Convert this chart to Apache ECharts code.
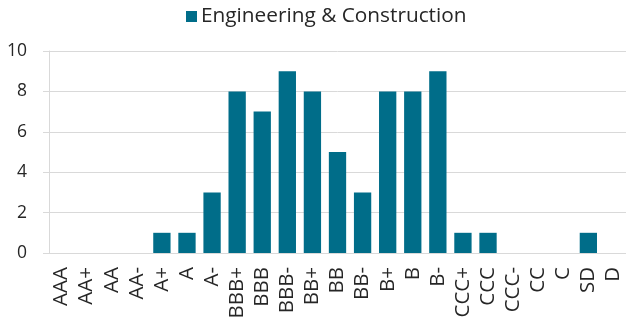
<!DOCTYPE html>
<html>
<head>
<meta charset="utf-8">
<script src="https://cdn.jsdelivr.net/npm/echarts@6/dist/echarts.min.js"></script>
<style>
  html, body { margin: 0; padding: 0; background: #fff; }
  #chart { width: 626px; height: 324px; }
</style>
</head>
<body>
<div id="chart"></div>
<script>
// Rating categories along the x axis
const ratings = ['AAA', 'AA+', 'AA', 'AA-', 'A+', 'A', 'A-', 'BBB+', 'BBB', 'BBB-', 'BB+', 'BB', 'BB-',
  'B+', 'B', 'B-', 'CCC+', 'CCC', 'CCC-', 'CC', 'C', 'SD', 'D'];
// Number of issuers per rating
const counts = [0, 0, 0, 0, 1, 1, 3, 8, 7, 9, 8, 5, 3, 8, 8, 9, 1, 1, 0, 0, 0, 1, 0];
const seriesName = 'Engineering & Construction';
const yTicks = { min: 0, max: 10, step: 2 };

const font = '"Open Sans", "Liberation Sans", sans-serif';
const gridColor = '#d9d9d9';
const textColor = '#262626';

const chart = echarts.init(document.getElementById('chart'), null, { renderer: 'canvas' });
chart.setOption({
  animation: false,
  legend: {
    data: [seriesName],
    left: 181,
    top: 1,
    icon: 'rect',
    itemWidth: 11,
    itemHeight: 11,
    itemGap: 6,
    textStyle: { fontFamily: font, fontSize: 20.8, color: textColor, padding: [0, 0, 0, -1] }
  },
  grid: { left: 49, right: -3, top: 51, bottom: 71, containLabel: false },
  xAxis: {
    type: 'category',
    data: ratings,
    axisLine: { show: true, lineStyle: { color: gridColor, width: 1 } },
    axisTick: { show: false },
    axisLabel: {
      rotate: 90,
      interval: 0,
      margin: 14,
      fontFamily: font,
      fontSize: 20.5,
      color: textColor
    }
  },
  yAxis: {
    type: 'value',
    min: yTicks.min,
    max: yTicks.max,
    interval: yTicks.step,
    axisLine: { show: true, lineStyle: { color: gridColor, width: 1 } },
    axisTick: { show: true, length: 6, lineStyle: { color: gridColor } },
    splitLine: { show: true, lineStyle: { color: gridColor, width: 1 } },
    axisLabel: { margin: 22, fontFamily: font, fontSize: 17.5, color: textColor }
  },
  series: [{
    name: seriesName,
    type: 'bar',
    data: counts,
    barCategoryGap: '31%',
    itemStyle: { color: '#006d89' }
  }]
});
</script>
</body>
</html>
